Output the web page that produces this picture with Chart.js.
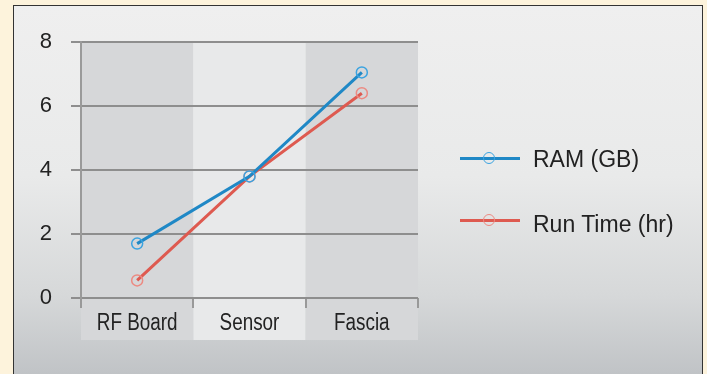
<!DOCTYPE html>
<html>
<head>
<meta charset="utf-8">
<script src="https://cdn.jsdelivr.net/npm/chart.js@4/dist/chart.umd.min.js"></script>
<style>
  html, body { margin: 0; padding: 0; }
  body { width: 707px; height: 374px; background: #fdf3dc; position: relative; overflow: hidden;
         font-family: "Liberation Sans", Arial, sans-serif; }
  #panel { position: absolute; left: 13px; top: 5px; width: 688px; height: 380px;
           border: 1px solid #333; border-bottom: none;
           background: linear-gradient(to bottom, #efefef 0px, #e9eaea 170px, #d6d8d9 290px, #c0c3c6 369px); }
  #chart { position: absolute; left: 0; top: 0; }
  #legend { position: absolute; left: 460px; top: 0; }
  .swatch { position: absolute; left: 0; width: 60px; height: 3px; }
  .dot { position: absolute; left: 23px; top: -5px; width: 10px; height: 10px; border-radius: 50%;
         border: 1.5px solid; box-sizing: content-box; }
  .label { position: absolute; left: 73px; font-size: 23px; line-height: 26px; color: #222; white-space: nowrap; }
</style>
</head>
<body>
<div id="panel"></div>
<canvas id="chart" width="707" height="374"></canvas>
<div id="legend"></div>
<script>
// Categories and series
const categories = ["RF Board", "Sensor", "Fascia"];
const ramGB = [1.7, 3.8, 7.05];
const runTimeHr = [0.55, 3.8, 6.4];
const yTicks = [0, 2, 4, 6, 8];

const seriesNames = ["RAM (GB)", "Run Time (hr)"];
const lineColors = ["#1f88c6", "#de5a50"];
const markerColors = ["#3ba3e0", "#ec8a82"];

// Alternating column bands behind the plot, reaching down through the label row
const bandPlugin = {
  id: "bands",
  beforeDraw(chart) {
    const { ctx, chartArea, scales } = chart;
    const x = scales.x;
    const step = x.getPixelForValue(1) - x.getPixelForValue(0);
    const bottom = chartArea.bottom + 42;
    ctx.save();
    categories.forEach((c, i) => {
      const cx = x.getPixelForValue(i);
      ctx.fillStyle = i % 2 === 0 ? "#d6d7d9" : "#e8e9ea";
      ctx.fillRect(cx - step / 2, chartArea.top, step, bottom - chartArea.top);
    });
    ctx.restore();
  }
};

// Category names in a condensed face: full-height glyphs squeezed horizontally
const condensedLabels = {
  id: "condensedLabels",
  afterDraw(chart) {
    const { ctx, chartArea, scales } = chart;
    const x = scales.x;
    ctx.save();
    ctx.font = "23px 'Liberation Sans', Arial, sans-serif";
    ctx.fillStyle = "#222";
    ctx.textAlign = "center";
    ctx.textBaseline = "middle";
    categories.forEach((c, i) => {
      const cx = x.getPixelForValue(i);
      ctx.save();
      ctx.translate(cx, chartArea.bottom + 26);
      ctx.scale(0.82, 1);
      ctx.fillText(c, 0, 0);
      ctx.restore();
    });
    ctx.restore();
  }
};

const chart = new Chart(document.getElementById("chart"), {
  type: "line",
  data: {
    labels: categories,
    datasets: [ramGB, runTimeHr].map((vals, i) => ({
      label: seriesNames[i],
      data: vals,
      borderColor: lineColors[i],
      borderWidth: 3,
      pointRadius: 5.5,
      pointBorderWidth: 1.5,
      pointBorderColor: markerColors[i],
      pointBackgroundColor: "rgba(0,0,0,0)",
      tension: 0
    }))
  },
  options: {
    responsive: false,
    animation: false,
    layout: { padding: { left: 0, right: 289, top: 42, bottom: 26 } },
    plugins: { legend: { display: false }, tooltip: { enabled: false } },
    scales: {
      x: {
        offset: true,
        afterFit(s) { s.height = 50; },
        grid: { display: true, drawOnChartArea: false, offset: true, tickLength: 10,
                color: "#999", lineWidth: 2 },
        border: { display: false },
        ticks: { display: false }
      },
      y: {
        min: 0, max: 8,
        afterFit(s) { s.width = 81; },
        afterBuildTicks(s) { s.ticks = yTicks.map(v => ({ value: v })); },
        grid: { color: "#8e8e8e", lineWidth: 2, tickLength: 10 },
        border: { display: true, color: "#9a9a9a", width: 2 },
        ticks: { color: "#222", font: { size: 22, family: "Liberation Sans" }, padding: 19 }
      }
    }
  },
  plugins: [bandPlugin, condensedLabels]
});

// Legend: line sample with a hollow marker, then the series name
const legend = document.getElementById("legend");
const swatchY = [157, 219];
const labelY = [146, 211];
seriesNames.forEach((name, i) => {
  const sw = document.createElement("div");
  sw.className = "swatch";
  sw.style.top = swatchY[i] + "px";
  sw.style.background = lineColors[i];
  const dot = document.createElement("div");
  dot.className = "dot";
  dot.style.borderColor = markerColors[i];
  sw.appendChild(dot);
  const lab = document.createElement("div");
  lab.className = "label";
  lab.style.top = labelY[i] + "px";
  lab.textContent = name;
  legend.appendChild(sw);
  legend.appendChild(lab);
});
</script>
</body>
</html>
